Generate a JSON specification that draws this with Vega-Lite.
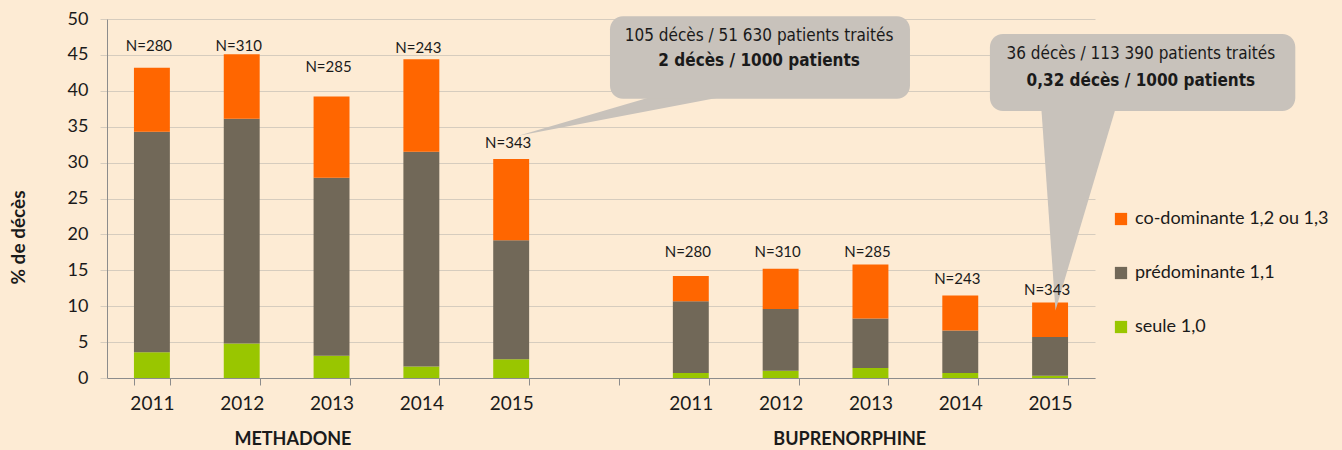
{
  "$schema": "https://vega.github.io/schema/vega-lite/v6.json",
  "autosize": {"type": "none"},
  "width": 988,
  "height": 359,
  "padding": {"left": 107, "top": 19, "right": 247, "bottom": 72},
  "background": "#FDEBD4",
  "config": {
    "view": {"stroke": null},
    "font": "Lato",
    "text": {"font": "Lato"},
    "axisY": {
      "labelFontSize": 18, "labelColor": "#1a1a1a", "labelPadding": 12, "labelOverlap": false,
      "grid": true, "gridColor": "#D6CCBE", "gridWidth": 1,
      "domainColor": "#8C8C8C", "tickColor": "#D6CCBE", "tickSize": 7
    }
  },
  "datasets": {
    "bars": [
      {"slot": "M2011", "cat": "seule 1,0", "v": 3.6},
      {"slot": "M2011", "cat": "prédominante 1,1", "v": 30.7},
      {"slot": "M2011", "cat": "co-dominante 1,2 ou 1,3", "v": 8.9},
      {"slot": "M2012", "cat": "seule 1,0", "v": 4.8},
      {"slot": "M2012", "cat": "prédominante 1,1", "v": 31.3},
      {"slot": "M2012", "cat": "co-dominante 1,2 ou 1,3", "v": 9.0},
      {"slot": "M2013", "cat": "seule 1,0", "v": 3.1},
      {"slot": "M2013", "cat": "prédominante 1,1", "v": 24.8},
      {"slot": "M2013", "cat": "co-dominante 1,2 ou 1,3", "v": 11.3},
      {"slot": "M2014", "cat": "seule 1,0", "v": 1.6},
      {"slot": "M2014", "cat": "prédominante 1,1", "v": 29.9},
      {"slot": "M2014", "cat": "co-dominante 1,2 ou 1,3", "v": 12.9},
      {"slot": "M2015", "cat": "seule 1,0", "v": 2.6},
      {"slot": "M2015", "cat": "prédominante 1,1", "v": 16.6},
      {"slot": "M2015", "cat": "co-dominante 1,2 ou 1,3", "v": 11.3},
      {"slot": "B2011", "cat": "seule 1,0", "v": 0.7},
      {"slot": "B2011", "cat": "prédominante 1,1", "v": 10.0},
      {"slot": "B2011", "cat": "co-dominante 1,2 ou 1,3", "v": 3.5},
      {"slot": "B2012", "cat": "seule 1,0", "v": 1.0},
      {"slot": "B2012", "cat": "prédominante 1,1", "v": 8.6},
      {"slot": "B2012", "cat": "co-dominante 1,2 ou 1,3", "v": 5.6},
      {"slot": "B2013", "cat": "seule 1,0", "v": 1.4},
      {"slot": "B2013", "cat": "prédominante 1,1", "v": 6.9},
      {"slot": "B2013", "cat": "co-dominante 1,2 ou 1,3", "v": 7.5},
      {"slot": "B2014", "cat": "seule 1,0", "v": 0.7},
      {"slot": "B2014", "cat": "prédominante 1,1", "v": 5.9},
      {"slot": "B2014", "cat": "co-dominante 1,2 ou 1,3", "v": 4.9},
      {"slot": "B2015", "cat": "seule 1,0", "v": 0.3},
      {"slot": "B2015", "cat": "prédominante 1,1", "v": 5.4},
      {"slot": "B2015", "cat": "co-dominante 1,2 ou 1,3", "v": 4.8}
    ],
    "nlabels": [
      {"slot": "M2011", "lab": "N=280", "ly": 46.2},
      {"slot": "M2012", "lab": "N=310", "ly": 46.2},
      {"slot": "M2013", "lab": "N=285", "ly": 43.3},
      {"slot": "M2014", "lab": "N=243", "ly": 46.0},
      {"slot": "M2015", "lab": "N=343", "ly": 32.7},
      {"slot": "B2011", "lab": "N=280", "ly": 17.6},
      {"slot": "B2012", "lab": "N=310", "ly": 17.6},
      {"slot": "B2013", "lab": "N=285", "ly": 17.6},
      {"slot": "B2014", "lab": "N=243", "ly": 13.8},
      {"slot": "B2015", "lab": "N=343", "ly": 12.2}
    ],
    "boxes": [
      {"box": 1, "u1": 5.60, "u2": 8.94, "y1": 50.4, "y2": 38.9},
      {"box": 2, "u1": 9.83, "u2": 13.23, "y1": 47.9, "y2": 37.2}
    ],
    "pointers": [
      {"tri": 1, "ty": 33.74, "xa": 4.58, "xb": 4.58},
      {"tri": 1, "ty": 39.5, "xa": 6.15, "xb": 6.99},
      {"tri": 2, "ty": 9.4, "xa": 10.56, "xb": 10.56},
      {"tri": 2, "ty": 38.0, "xa": 10.40, "xb": 11.24}
    ],
    "ctexts": [
      {"u": 7.26, "ty": 47.63, "txt": "105 décès / 51 630 patients traités"},
      {"u": 11.51, "ty": 45.07, "txt": "36 décès / 113 390 patients traités"}
    ],
    "ctextsBold": [
      {"u": 7.26, "ty": 44.16, "txt": "2 décès / 1000 patients"},
      {"u": 11.51, "ty": 41.42, "txt": "0,32 décès / 1000 patients"}
    ],
    "groups": [
      {"u": 2.07, "g": "METHADONE"},
      {"u": 8.27, "g": "BUPRENORPHINE"}
    ]
  },
  "resolve": {"scale": {"x": "independent"}, "axis": {"x": "independent"}},
  "layer": [
    {
      "data": {"name": "bars"},
      "mark": {"type": "bar"},
      "encoding": {
        "x": {
          "field": "slot", "type": "nominal",
          "scale": {"domain": ["M2011", "M2012", "M2013", "M2014", "M2015", "gap", "B2011", "B2012", "B2013", "B2014", "B2015"], "paddingInner": 0.6, "paddingOuter": 0.3},
          "axis": {
            "title": null, "labelAngle": 0, "tickBand": "extent",
            "labelExpr": "isString(datum.value) && datum.value != 'gap' ? substring(datum.value, 1, 5) : ''",
            "labelFontSize": 19, "labelColor": "#1a1a1a", "labelPadding": 9,
            "domainColor": "#8C8C8C", "tickColor": "#8C8C8C", "tickSize": 7, "grid": false
          }
        },
        "y": {
          "field": "v", "type": "quantitative", "stack": "zero",
          "scale": {"domain": [0, 50], "nice": false},
          "axis": {
            "title": "% de décès", "titleFontSize": 19, "titleFontWeight": "bold", "titleColor": "#1a1a1a",
            "titleX": -89, "titleY": 218, "titleAlign": "center", "titleBaseline": "middle", "titleAngle": -90,
            "values": [0, 5, 10, 15, 20, 25, 30, 35, 40, 45, 50]
          }
        },
        "color": {
          "field": "cat", "type": "nominal",
          "scale": {"domain": ["co-dominante 1,2 ou 1,3", "prédominante 1,1", "seule 1,0"], "range": ["#FF6600", "#716858", "#99C600"]},
          "legend": {
            "title": null, "orient": "none", "legendX": 1005, "legendY": 191,
            "symbolType": "square", "symbolSize": 150, "symbolOpacity": 1, "symbolStrokeWidth": 0,
            "labelFontSize": 18, "labelColor": "#1a1a1a", "labelOffset": 5, "labelLimit": 0, "rowPadding": 36, "padding": 0
          }
        },
        "order": {"field": "cat", "sort": "descending"}
      }
    },
    {
      "data": {"name": "pointers"},
      "mark": {"type": "area", "orient": "horizontal", "color": "#C8C2BB", "opacity": 1},
      "encoding": {
        "y": {"field": "ty", "type": "quantitative", "scale": {"domain": [0, 50], "nice": false}, "axis": {"values": [0, 5, 10, 15, 20, 25, 30, 35, 40, 45, 50], "title": "% de décès"}},
        "x": {"field": "xa", "type": "quantitative", "stack": null, "scale": {"domain": [0, 11], "nice": false, "zero": false}, "axis": null},
        "x2": {"field": "xb"},
        "detail": {"field": "tri", "type": "nominal"}
      }
    },
    {
      "data": {"name": "boxes"},
      "mark": {"type": "rect", "color": "#C8C2BB", "cornerRadius": 13},
      "encoding": {
        "x": {"field": "u1", "type": "quantitative", "scale": {"domain": [0, 11], "nice": false, "zero": false}, "axis": null},
        "x2": {"field": "u2"},
        "y": {"field": "y1", "type": "quantitative", "scale": {"domain": [0, 50], "nice": false}, "axis": {"values": [0, 5, 10, 15, 20, 25, 30, 35, 40, 45, 50], "title": "% de décès"}},
        "y2": {"field": "y2"}
      }
    },
    {
      "data": {"name": "nlabels"},
      "mark": {"type": "text", "fontSize": 15, "color": "#1a1a1a", "baseline": "middle", "align": "center", "dx": -3},
      "encoding": {
        "x": {
          "field": "slot", "type": "nominal",
          "scale": {"domain": ["M2011", "M2012", "M2013", "M2014", "M2015", "gap", "B2011", "B2012", "B2013", "B2014", "B2015"], "paddingInner": 0.6, "paddingOuter": 0.3},
          "axis": null
        },
        "y": {"field": "ly", "type": "quantitative", "scale": {"domain": [0, 50], "nice": false}, "axis": {"values": [0, 5, 10, 15, 20, 25, 30, 35, 40, 45, 50], "title": "% de décès"}},
        "text": {"field": "lab"}
      }
    },
    {
      "data": {"name": "ctexts"},
      "mark": {"type": "text", "fontSize": 17, "font": "DejaVu Sans Condensed", "color": "#1a1a1a", "baseline": "middle", "align": "center"},
      "encoding": {
        "x": {"field": "u", "type": "quantitative", "scale": {"domain": [0, 11], "nice": false, "zero": false}, "axis": null},
        "y": {"field": "ty", "type": "quantitative", "scale": {"domain": [0, 50], "nice": false}, "axis": {"values": [0, 5, 10, 15, 20, 25, 30, 35, 40, 45, 50], "title": "% de décès"}},
        "text": {"field": "txt"}
      }
    },
    {
      "data": {"name": "ctextsBold"},
      "mark": {"type": "text", "fontSize": 17, "font": "DejaVu Sans Condensed", "fontWeight": "bold", "color": "#1a1a1a", "baseline": "middle", "align": "center"},
      "encoding": {
        "x": {"field": "u", "type": "quantitative", "scale": {"domain": [0, 11], "nice": false, "zero": false}, "axis": null},
        "y": {"field": "ty", "type": "quantitative", "scale": {"domain": [0, 50], "nice": false}, "axis": {"values": [0, 5, 10, 15, 20, 25, 30, 35, 40, 45, 50], "title": "% de décès"}},
        "text": {"field": "txt"}
      }
    },
    {
      "data": {"name": "groups"},
      "mark": {"type": "text", "fontSize": 18, "fontWeight": "bold", "color": "#1a1a1a", "baseline": "middle", "align": "center"},
      "encoding": {
        "x": {"field": "u", "type": "quantitative", "scale": {"domain": [0, 11], "nice": false, "zero": false}, "axis": null},
        "y": {"datum": -8.6, "type": "quantitative", "scale": {"domain": [0, 50], "nice": false}, "axis": {"values": [0, 5, 10, 15, 20, 25, 30, 35, 40, 45, 50], "title": "% de décès"}},
        "text": {"field": "g"}
      }
    }
  ]
}
